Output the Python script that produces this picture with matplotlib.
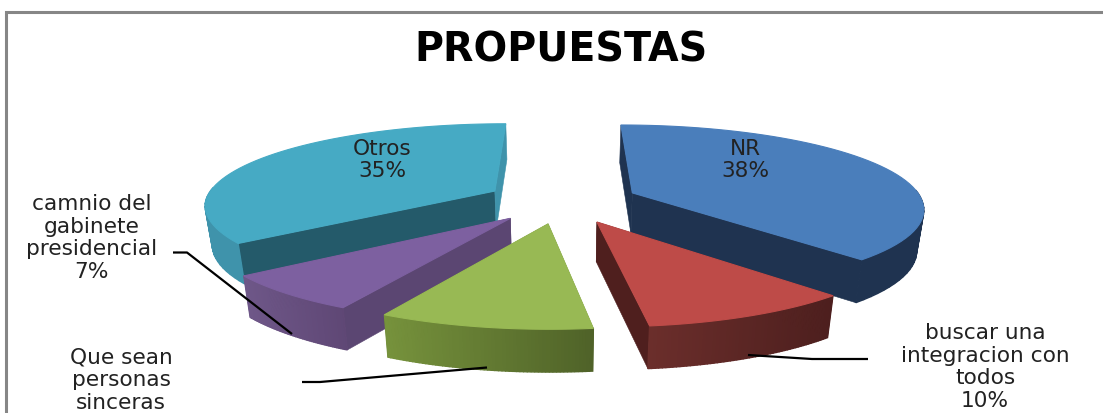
import numpy as np
import matplotlib
matplotlib.use('Agg')
import matplotlib.pyplot as plt
from matplotlib.colors import to_rgb

title = 'PROPUESTAS'
names = ['NR', 'buscar una\nintegracion con\ntodos', 'Que sean\npersonas\nsinceras',
         'camnio del\ngabinete\npresidencial', 'Otros']
values = [38, 10, 10, 7, 35]
top_colors = ['#4a7ebb', '#be4b48', '#98b954', '#7d60a0', '#46aac4']
cut_start = ['#1f3350', '#4f1f1e', '#4f6228', '#5b4672', '#245a6a']
cut_end = ['#1f3350', '#4f1f1e', '#4f6228', '#5b4672', '#3f93ab']
wall_left = ['#1f3350', '#6b2e2b', '#76923c', '#6e5788', '#3f93ab']
wall_right = ['#1f3350', '#4d1f1e', '#4f6228', '#5f4775', '#3f93ab']
depth = [41, 39, 39, 39, 39]
# painter order, back slices first
draw_order = [4, 0, 3, 1, 2]

# fake 3d pie: tilted disc seen from above
CX, CY = 562, 202
R = 290
PERSP = 0.16
EXPLODE = 0.265


def project(X, Y):
    X, Y = np.asarray(X, float), np.asarray(Y, float)
    x = CX + R * X * (1 + PERSP * Y) + 4 * np.clip(Y, 0, None)
    return x, CY + 84.4 * Y + 13.8 * Y ** 2


def lower(X, Y, d):
    # same point on the bottom face of the slab
    x, y = project(X, Y)
    return CX + (x - CX) * 0.98, y + d + 3 * np.asarray(Y, float)


fig = plt.figure(figsize=(11.03, 4.14), dpi=100)
ax = fig.add_axes([0, 0, 1, 1])
ax.set_xlim(0, 1103)
ax.set_ylim(414, 0)
ax.axis('off')

# chart frame, cut off on the right and at the bottom
ax.plot([1103, 5.5, 5.5], [13, 13, 414], color='#868686', lw=2.2, solid_joinstyle='miter')

edges = np.cumsum([0] + values) / sum(values) * 2 * np.pi

for i in draw_order:
    a0, a1 = edges[i], edges[i + 1]
    mid = (a0 + a1) / 2
    ox, oy = EXPLODE * np.sin(mid), -EXPLODE * np.cos(mid)
    t = np.linspace(a0, a1, 60)
    X = ox + np.sin(t)
    Y = oy - np.cos(t)

    # cut faces
    for a, col in ((a0, cut_start[i]), (a1, cut_end[i])):
        fx = np.array([ox, ox + np.sin(a)])
        fy = np.array([oy, oy - np.cos(a)])
        tx, ty = project(fx, fy)
        bx, by = lower(fx, fy, depth[i])
        ax.fill([tx[0], tx[1], bx[1], bx[0]], [ty[0], ty[1], by[1], by[0]],
                color=col, lw=0.4, zorder=2)

    # outer wall, only the part facing the viewer, shaded along x
    tx, ty = project(X, Y)
    bx, by = lower(X, Y, depth[i])
    keep = np.where(np.cos(t) <= 0.05)[0]
    c0, c1 = np.array(to_rgb(wall_left[i])), np.array(to_rgb(wall_right[i]))
    if len(keep) > 1:
        xa, xb = tx[keep].min(), tx[keep].max()
        for j in keep[:-1]:
            w = ((tx[j] + tx[j + 1]) / 2 - xa) / (xb - xa)
            ax.fill([tx[j], tx[j + 1], bx[j + 1], bx[j]], [ty[j], ty[j + 1], by[j + 1], by[j]],
                    color=c0 + (c1 - c0) * w, lw=1.0, zorder=2)

    # top face
    ax_, ay_ = project(ox, oy)
    ax.fill(np.r_[ax_, tx], np.r_[ay_, ty], color=top_colors[i], lw=0.8, zorder=2)

# leader lines
line = dict(color='black', lw=1.6, zorder=3, solid_capstyle='butt')
ax.plot([173, 187, 292], [253.5, 253.5, 335], **line)
ax.plot([302, 320, 487], [383, 383, 368.5], **line)
ax.plot([868, 812, 748], [360, 360, 356], **line)

# labels
txt = dict(family='DejaVu Sans', fontsize=15.6, color='#222222', ha='center', va='center',
           linespacing=1.18, zorder=4)
ax.text(745, 160, f'{names[0]}\n{values[0]}%', **txt)
ax.text(382, 160, f'{names[4]}\n{values[4]}%', **txt)
ax.text(92, 238, f'{names[3]}\n{values[3]}%', **txt)
ax.text(121, 380, names[2], **txt)
ax.text(985, 367, f'{names[1]}\n{values[1]}%', **txt)
ax.text(561, 50, title, family='DejaVu Sans', fontweight='bold', fontsize=28.5,
        color='black', ha='center', va='center', zorder=4)

fig.savefig('out.png', dpi=100)
